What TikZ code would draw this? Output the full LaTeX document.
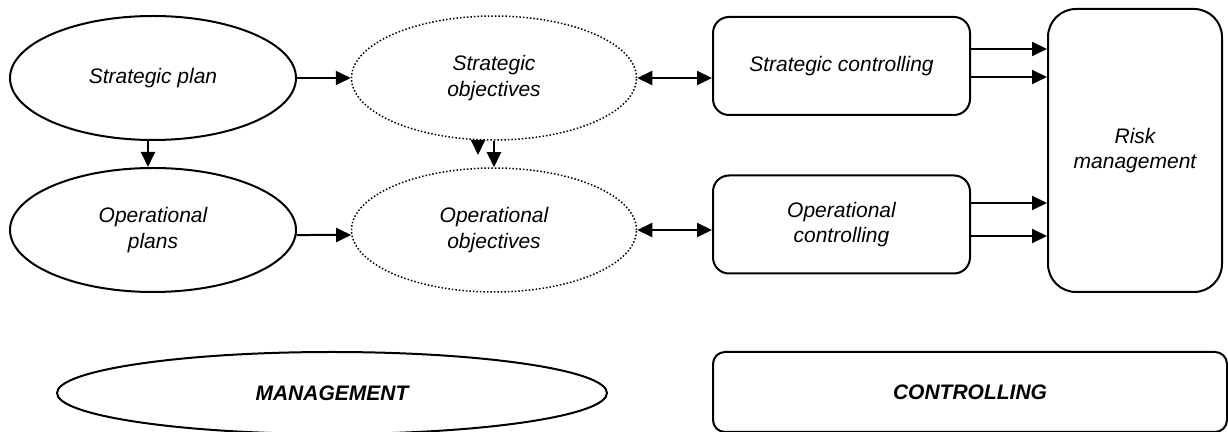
\documentclass[tikz,border=0pt]{standalone}
\usepackage{fontspec}
\setmainfont{Liberation Sans}
\usetikzlibrary{shapes.geometric,arrows.meta}

\tikzset{
  every node/.style={font=\fontsize{10.5pt}{12.6pt}\selectfont\itshape, align=center, inner sep=0pt},
  plan/.style={draw, ellipse, line width=1pt, minimum width=143pt, minimum height=62pt},
  goal/.style={draw, ellipse, line width=0.75pt, dash pattern=on 0.75pt off 1pt, minimum width=142.5pt, minimum height=62pt},
  ctrl/.style={draw, rounded corners=8pt, line width=1pt, minimum width=128.5pt, minimum height=49pt},
  arr/.style={-{Triangle[length=7.5pt,width=7pt]}, line width=1pt},
  darr/.style={{Triangle[length=7.5pt,width=7pt]}-{Triangle[length=7.5pt,width=7pt]}, line width=1pt}
}

\begin{document}
\begin{tikzpicture}[x=0.5pt, y=-0.5pt]

\fill[white] (0,0) rectangle (1228,432);
\useasboundingbox (0,0) rectangle (1228,432);

% management side
\node[plan] (sp) at (153,78) {Strategic plan};
\node[plan] (op) at (153,230) {Operational\\plans};
\node[goal] (so) at (494,78) {Strategic\\objectives};
\node[goal] (oo) at (494,230) {Operational\\objectives};

% controlling side
\node[ctrl] (sc) at (841.5,66) {Strategic controlling};
\node[ctrl] (oc) at (841.5,224.5) {Operational\\controlling};
\node[ctrl, rounded corners=14pt, minimum width=87pt, minimum height=141.5pt] (risk) at (1135,150.5) {Risk\\management};

% legend
\node[plan, minimum width=275pt, minimum height=41pt] (mgmt) at (332,393) {\bfseries MANAGEMENT};
\node[ctrl, rounded corners=6pt, minimum width=257pt, minimum height=40pt] (ctl) at (970,392) {\bfseries CONTROLLING};

% arrows
\draw[arr] (sp.east) -- (so.west);
\draw[arr] ([xshift=-2.5pt]sp.south) -- ([xshift=-2.5pt]op.north);
\draw[arr] (op.-2.4) -- (oo.182.4);
\draw[arr] (so.south) -- (oo.north);
\coordinate (stub) at (478,155);
\draw[arr] (so.south -| stub) -- (stub);

\draw[darr] (so.east) -- (so.east -| sc.west);
\draw[darr] (oo.east) -- (oo.east -| oc.west);

\foreach \s/\b in {8.5/sc,-5.5/sc,10.75/oc,-5.75/oc}
  \draw[arr] ([yshift=\s pt]\b.east) -- ([yshift=\s pt]\b.east -| risk.west);

\end{tikzpicture}
\end{document}
